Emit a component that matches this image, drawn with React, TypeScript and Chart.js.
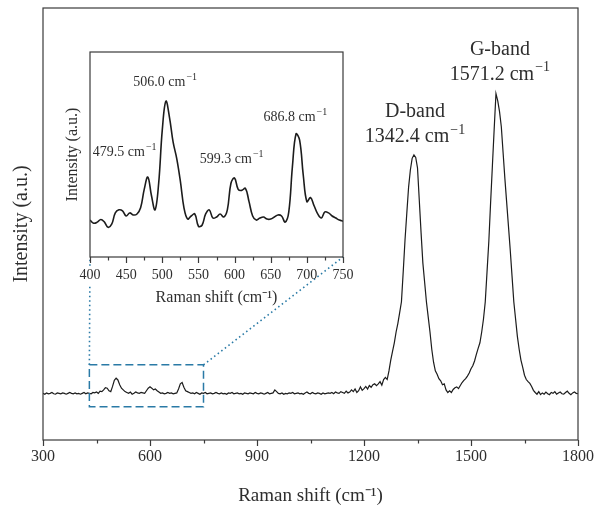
import React, { useEffect, useRef } from 'react';
import { Chart, registerables } from 'chart.js';

Chart.register(...registerables);

// ---------- data ----------
// Main spectrum: Raman shift from 300 to 1800 cm^-1, sampled every 5 cm^-1
const MAIN_SHIFT_START = 300;
const MAIN_SHIFT_STEP = 5;
const mainIntensity = [
  108, 106, 109, 107, 108, 110, 107, 106, 109, 108, 107, 109, 108, 106, 108, 110, 108, 107, 109, 107,
  108, 106, 108, 110, 107, 109, 108, 107, 110, 109, 111, 108, 113, 112, 116, 121, 120, 114, 112, 124,
  138, 143, 139, 128, 120, 116, 112, 110, 108, 111, 106, 108, 111, 109, 108, 110, 109, 108, 114, 120,
  123, 120, 116, 118, 114, 111, 108, 109, 107, 108, 110, 108, 109, 107, 108, 109, 118, 130, 133, 122,
  114, 112, 110, 108, 109, 107, 110, 108, 106, 109, 108, 110, 107, 108, 109, 107, 108, 110, 108, 107,
  109, 107, 108, 106, 109, 108, 110, 107, 108, 109, 107, 108, 106, 109, 108, 107, 109, 108, 107, 110,
  108, 107, 109, 108, 106, 108, 110, 107, 108, 109, 116, 112, 108, 107, 109, 106, 108, 107, 109, 108,
  110, 107, 108, 109, 107, 108, 106, 109, 111, 108, 107, 110, 108, 107, 109, 108, 106, 109, 107, 108,
  109, 108, 110, 107, 111, 109, 108, 112, 110, 108, 113, 109, 111, 116, 112, 118, 110, 114, 123, 115,
  119, 124, 118, 126, 122, 128, 130, 126, 130, 135, 127, 140, 145, 140, 160, 185, 205, 225, 250, 270,
  295, 320, 390, 463, 525, 585, 625, 652, 660, 654, 630, 555, 480, 410, 365, 320, 285, 250, 210, 180,
  160, 152, 142, 137, 128, 130, 116, 110, 114, 110, 117, 121, 123, 119, 126, 133, 138, 142, 148, 155,
  165, 172, 183, 198, 212, 225, 250, 280, 320, 390, 460, 550, 635, 720, 802, 785, 760, 725, 665, 605,
  550, 495, 440, 380, 320, 280, 240, 210, 185, 168, 150, 140, 135, 131, 124, 115, 110, 106, 112, 105,
  109, 106, 111, 107, 105, 110, 108, 112, 106, 109, 111, 107, 106, 110, 113, 108, 105, 109, 111, 108,
  107,
];

// Inset spectrum: 400 to 750 cm^-1, every 5 cm^-1
const INSET_SHIFT_START = 400;
const INSET_SHIFT_STEP = 5;
const insetIntensity = [
  18, 16.5, 17, 18.3, 17, 14.5, 16, 21.5, 23, 22.5,
  20, 21.5, 20.5, 21, 24, 33, 39, 30, 23, 36,
  62, 76, 68, 56, 48, 37, 24, 18.5, 20, 21,
  15, 15.5, 21, 23, 19, 19.5, 21, 19.5, 23, 36,
  38.5, 33, 32.5, 33.5, 27, 20, 18, 19, 19.5, 18.5,
  18.5, 19.5, 20.5, 20, 17, 22, 44, 60, 57, 40,
  27, 29, 25, 21, 19, 22, 21.5, 20, 19, 18,
  17.5,
];

// axis ranges and ticks
const mainXRange = [300, 1800];
const mainXStep = 150;
const mainXLabelEvery = 300;
const mainYRange = [0, 1000];
const insetXRange = [400, 750];
const insetXStep = 25;
const insetXLabelEvery = 50;
const insetYRange = [0, 100];

// zoomed region box on the main chart (shift range, intensity range)
const zoomShift = [430, 750];
const zoomIntensity = [77, 174];

// peak annotations
const mainLabelShift = [1343, 1343, 1581, 1581];
const mainLabelIntensity = [759, 701, 903, 845];
const mainLabelText = ['D-band', '1342.4 cm', 'G-band', '1571.2 cm'];
const mainLabelSup = ['', '−1', '', '−1'];

const insetLabelShift = [504, 448, 596, 684];
const insetLabelIntensity = [85, 51, 47.6, 68];
const insetLabelText = ['506.0 cm', '479.5 cm', '599.3 cm', '686.8 cm'];
const insetLabelSup = ['−1', '−1', '−1', '−1'];

const xTitle = 'Raman shift (cm⁻¹)';
const yTitle = 'Intensity (a.u.)';

// ---------- styling ----------
const FONT = '"Liberation Serif", "Times New Roman", serif';
const TEXT = '#2e2e2e';
const FRAME = '#3a3a3a';
const LINE = '#1c1c1c';
const ZOOM_COLOR = '#2a7aa6';
const INSET_LEFT = 55;
const INSET_TOP = 40;
const INSET_W = 300;
const INSET_H = 270;

function drawSupText(ctx: CanvasRenderingContext2D, cx: number, cy: number, text: string, sup: string, size: number) {
  const font = `${size}px ${FONT}`;
  const supFont = `${Math.round(size * 0.68)}px ${FONT}`;
  ctx.font = font;
  const w1 = ctx.measureText(text).width;
  ctx.font = supFont;
  const w2 = sup ? ctx.measureText(sup).width + 1 : 0;
  const x0 = cx - (w1 + w2) / 2;
  ctx.textBaseline = 'middle';
  ctx.textAlign = 'left';
  ctx.fillStyle = TEXT;
  ctx.font = font;
  ctx.fillText(text, x0, cy);
  if (sup) {
    ctx.font = supFont;
    ctx.fillText(sup, x0 + w1 + 1, cy - size * 0.36);
  }
}

function framePlugin(labelEvery: number) {
  return {
    id: 'frameTicks',
    afterDraw(chart: any) {
      const { ctx, chartArea } = chart;
      const { left, right, top, bottom } = chartArea;
      const xs = chart.scales.x;
      ctx.save();
      ctx.strokeStyle = FRAME;
      ctx.lineWidth = 1.2;
      ctx.setLineDash([]);
      ctx.strokeRect(left, top, right - left, bottom - top);
      xs.ticks.forEach((t: any) => {
        const px = Math.round(xs.getPixelForValue(t.value)) + 0.5;
        const len = t.value % labelEvery === 0 ? 6 : 3.5;
        ctx.beginPath();
        ctx.moveTo(px, bottom);
        ctx.lineTo(px, bottom + len);
        ctx.stroke();
      });
      ctx.restore();
    },
  };
}

function labelsPlugin(xsArr: number[], ysArr: number[], texts: string[], sups: string[], size: number) {
  return {
    id: 'peakLabels',
    afterDatasetsDraw(chart: any) {
      const { ctx } = chart;
      const xs = chart.scales.x;
      const ys = chart.scales.y;
      ctx.save();
      texts.forEach((t, i) => {
        drawSupText(ctx, xs.getPixelForValue(xsArr[i]), ys.getPixelForValue(ysArr[i]), t, sups[i], size);
      });
      ctx.restore();
    },
  };
}

export default function App() {
  const mainRef = useRef<HTMLCanvasElement>(null);
  const insetRef = useRef<HTMLCanvasElement>(null);

  useEffect(() => {
    const mainData = mainIntensity.map((v, i) => ({ x: MAIN_SHIFT_START + i * MAIN_SHIFT_STEP, y: v }));
    const insetData = insetIntensity.map((v, i) => ({ x: INSET_SHIFT_START + i * INSET_SHIFT_STEP, y: v }));

    const inset = new Chart(insetRef.current!, {
      type: 'line',
      data: {
        datasets: [
          {
            data: insetData,
            borderColor: LINE,
            borderWidth: 1.6,
            pointRadius: 0,
            tension: 0.4,
            fill: false,
          },
        ],
      },
      options: {
        animation: false,
        responsive: false,
        maintainAspectRatio: false,
        devicePixelRatio: 1,
        events: [],
        layout: { padding: { top: 12, right: 12, left: 0, bottom: 0 } },
        plugins: { legend: { display: false }, tooltip: { enabled: false } },
        scales: {
          x: {
            type: 'linear',
            min: insetXRange[0],
            max: insetXRange[1],
            grid: { display: false, drawTicks: false },
            border: { display: false },
            ticks: {
              stepSize: insetXStep,
              autoSkip: false,
              maxRotation: 0,
              padding: 10,
              color: TEXT,
              font: { family: FONT, size: 14 },
              callback: (v: any) => (Number(v) % insetXLabelEvery === 0 ? String(v) : ''),
              showLabelBackdrop: (c: any) => c.index === 0,
              backdropColor: '#ffffff',
              backdropPadding: 1,
            } as any,
            title: {
              display: true,
              text: xTitle,
              color: TEXT,
              font: { family: FONT, size: 16 },
              padding: { top: 0, bottom: 3 },
            },
            afterFit: (s: any) => {
              s.height = 53;
              s.paddingLeft = 0;
              s.paddingRight = 0;
            },
          },
          y: {
            type: 'linear',
            min: insetYRange[0],
            max: insetYRange[1],
            grid: { display: false, drawTicks: false },
            border: { display: false },
            ticks: { display: false },
            title: {
              display: true,
              text: yTitle,
              color: TEXT,
              font: { family: FONT, size: 16 },
              padding: { top: 8, bottom: 0 },
            },
            afterFit: (s: any) => {
              s.width = 35;
            },
          },
        },
      },
      plugins: [
        framePlugin(insetXLabelEvery),
        labelsPlugin(insetLabelShift, insetLabelIntensity, insetLabelText, insetLabelSup, 14),
      ],
    } as any);

    const zoomPlugin = {
      id: 'zoomBox',
      afterDatasetsDraw(chart: any) {
        const { ctx } = chart;
        const xs = chart.scales.x;
        const ys = chart.scales.y;
        const x1 = xs.getPixelForValue(zoomShift[0]);
        const x2 = xs.getPixelForValue(zoomShift[1]);
        const yT = ys.getPixelForValue(zoomIntensity[1]);
        const yB = ys.getPixelForValue(zoomIntensity[0]);
        const ia = inset.chartArea;
        ctx.save();
        ctx.strokeStyle = ZOOM_COLOR;
        ctx.lineWidth = 1.5;
        ctx.setLineDash([8, 4]);
        ctx.strokeRect(x1, yT, x2 - x1, yB - yT);
        ctx.setLineDash([1.5, 3]);
        ctx.lineWidth = 1.6;
        ctx.beginPath();
        ctx.moveTo(x1, yT);
        ctx.lineTo(INSET_LEFT + ia.left, INSET_TOP + ia.bottom);
        ctx.moveTo(x2, yT);
        ctx.lineTo(INSET_LEFT + ia.right, INSET_TOP + ia.bottom);
        ctx.stroke();
        ctx.restore();
      },
    };

    const main = new Chart(mainRef.current!, {
      type: 'line',
      data: {
        datasets: [
          {
            data: mainData,
            borderColor: LINE,
            borderWidth: 1.2,
            pointRadius: 0,
            tension: 0,
            fill: false,
          },
        ],
      },
      options: {
        animation: false,
        responsive: false,
        maintainAspectRatio: false,
        devicePixelRatio: 1,
        events: [],
        layout: { padding: { top: 8, right: 22, left: 0, bottom: 0 } },
        plugins: { legend: { display: false }, tooltip: { enabled: false } },
        scales: {
          x: {
            type: 'linear',
            min: mainXRange[0],
            max: mainXRange[1],
            grid: { display: false, drawTicks: false },
            border: { display: false },
            ticks: {
              stepSize: mainXStep,
              autoSkip: false,
              maxRotation: 0,
              padding: 7,
              color: TEXT,
              font: { family: FONT, size: 16 },
              callback: (v: any) => (Number(v) % mainXLabelEvery === 0 ? String(v) : ''),
            },
            title: {
              display: true,
              text: xTitle,
              color: TEXT,
              font: { family: FONT, size: 19 },
              padding: { top: 0, bottom: 1 },
            },
            afterFit: (s: any) => {
              s.height = 68;
              s.paddingLeft = 0;
              s.paddingRight = 0;
            },
          },
          y: {
            type: 'linear',
            min: mainYRange[0],
            max: mainYRange[1],
            grid: { display: false, drawTicks: false },
            border: { display: false },
            ticks: { display: false },
            title: {
              display: true,
              text: yTitle,
              color: TEXT,
              font: { family: FONT, size: 20 },
              padding: { top: 10, bottom: 0 },
            },
            afterFit: (s: any) => {
              s.width = 43;
            },
          },
        },
      },
      plugins: [
        framePlugin(mainXLabelEvery),
        zoomPlugin,
        labelsPlugin(mainLabelShift, mainLabelIntensity, mainLabelText, mainLabelSup, 20),
      ],
    } as any);

    return () => {
      main.destroy();
      inset.destroy();
    };
  }, []);

  return (
    <div style={{ position: 'fixed', left: 0, top: 0, width: 600, height: 508, background: '#ffffff' }}>
      <canvas
        ref={mainRef}
        width={600}
        height={508}
        style={{ position: 'absolute', left: 0, top: 0, width: 600, height: 508 }}
      />
      <canvas
        ref={insetRef}
        width={INSET_W}
        height={INSET_H}
        style={{ position: 'absolute', left: INSET_LEFT, top: INSET_TOP, width: INSET_W, height: INSET_H }}
      />
    </div>
  );
}
